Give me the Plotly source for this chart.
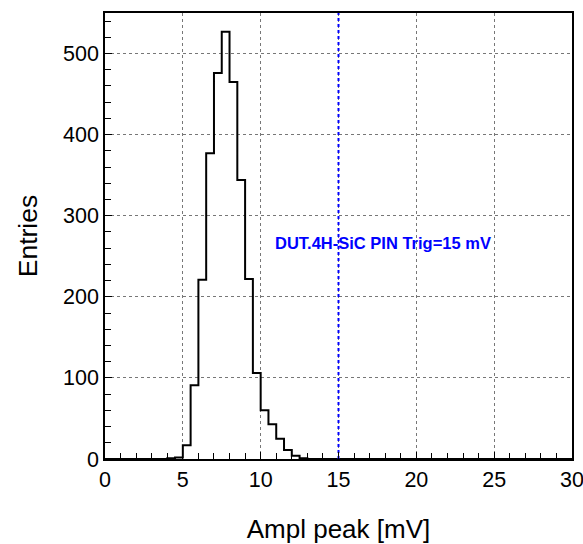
import plotly.graph_objects as go

# Histogram data (bin width 0.5 mV)
bin_lo = [4.0, 4.5, 5.0, 5.5, 6.0, 6.5, 7.0, 7.5, 8.0, 8.5, 9.0, 9.5,
          10.0, 10.5, 11.0, 11.5, 12.0, 12.5]
counts = [1, 2, 17, 91, 221, 377, 476, 527, 465, 344, 222, 106,
          60, 43, 25, 11, 4, 1]
bin_w = 0.5
x_min, x_max = 0, 30
y_max = 550
trig = 15
label = "DUT.4H-SiC PIN Trig=15 mV"

# Build step outline (ROOT-style histogram)
xs = [x_min, bin_lo[0]]
ys = [0, 0]
for lo, c in zip(bin_lo, counts):
    xs += [lo, lo + bin_w]
    ys += [c, c]
xs += [bin_lo[-1] + bin_w, x_max]
ys += [0, 0]

FONT = "Liberation Sans, Arial, Helvetica"

fig = go.Figure()
fig.add_trace(go.Scatter(x=xs, y=ys, mode="lines",
                         line=dict(color="black", width=2, shape="linear"),
                         hoverinfo="skip", showlegend=False))
fig.add_trace(go.Scatter(x=[trig, trig], y=[0, y_max], mode="lines",
                         line=dict(color="blue", width=2, dash="dot"),
                         showlegend=False, hoverinfo="skip"))

fig.add_annotation(x=10.8, y=266, xref="x", yref="y", text="<b>" + label + "</b>",
                   showarrow=False, xanchor="left", yanchor="middle",
                   font=dict(family=FONT, size=16.5, color="blue"))

axis_common = dict(
    showline=True, linecolor="black", linewidth=1.5, mirror=True,
    showgrid=True, gridcolor="#777777", griddash="dot", gridwidth=1,
    ticks="inside", ticklen=7, tickcolor="black", tickwidth=1,
    tickfont=dict(family=FONT, size=21.5, color="black"),
    zeroline=False, automargin=False, ticklabeloverflow="allow",
)

fig.update_layout(
    width=583, height=544,
    margin=dict(l=105, r=11, t=13, b=85),
    paper_bgcolor="white", plot_bgcolor="white",
    xaxis=dict(range=[x_min, x_max], tick0=0, dtick=5,
               minor=dict(dtick=1, ticks="inside", ticklen=6, tickcolor="black", showgrid=False),
               title=dict(text="Ampl peak [mV]", standoff=30,
                          font=dict(family=FONT, size=26, color="black")),
               **axis_common),
    yaxis=dict(range=[0, y_max], tick0=0, dtick=100,
               minor=dict(dtick=20, ticks="inside", ticklen=6, tickcolor="black", showgrid=False),
               title=dict(text="Entries", standoff=18,
                          font=dict(family=FONT, size=26.5, color="black")),
               **axis_common),
)

fig.write_html("out.html")
